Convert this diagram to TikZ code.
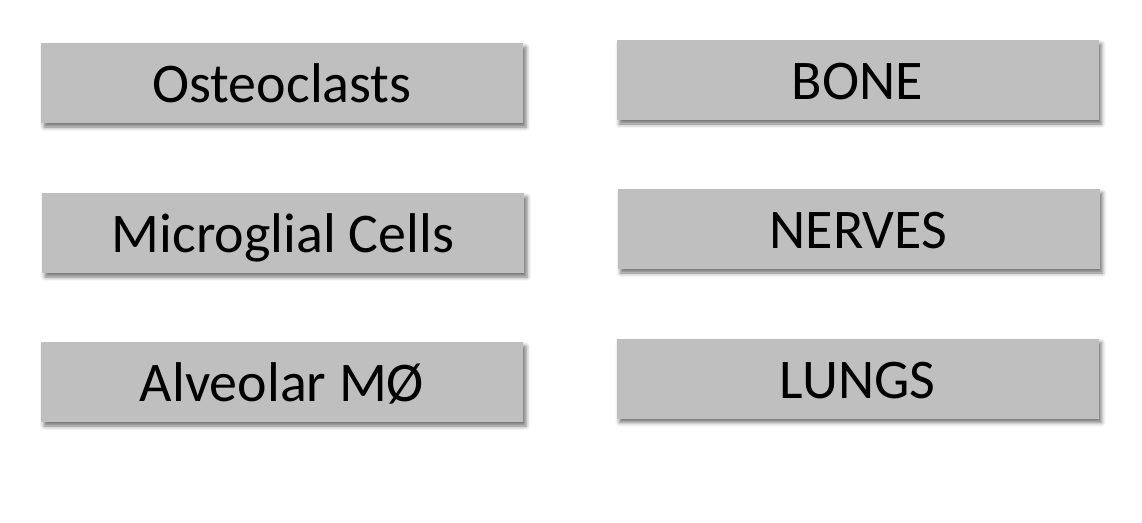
\documentclass[tikz,border=0pt]{standalone}
\usepackage{fontspec}
\setmainfont{Carlito}
\usetikzlibrary{shadows.blur}
\begin{document}
\begin{tikzpicture}[x=1pt,y=-1pt,
  cellbox/.style={fill=boxgray, draw=none, minimum width=482pt, minimum height=80pt, inner sep=0pt,
    blur shadow={shadow xshift=3pt, shadow yshift=-4pt, shadow blur radius=4pt, shadow opacity=55}},
  celltxt/.style={font=\fontsize{56}{60}\selectfont, text height=39pt, text depth=0pt}]
\definecolor{boxgray}{HTML}{BFBFBF}
\useasboundingbox (0,0) rectangle (1142,522);
\node[cellbox, celltxt] (osteo) at (282,83) {Osteoclasts};
\node[cellbox, celltxt] (micro) at (283,233) {Microglial Cells};
\node[cellbox, celltxt] (alveo) at (282,382) {Alveolar MØ};
\node[cellbox, celltxt] (bone) at (857.5,80) {BONE};
\node[cellbox, celltxt] (nerves) at (858.5,229) {NERVES};
\node[cellbox, celltxt] (lungs) at (857.5,378.5) {LUNGS};
\end{tikzpicture}
\end{document}
